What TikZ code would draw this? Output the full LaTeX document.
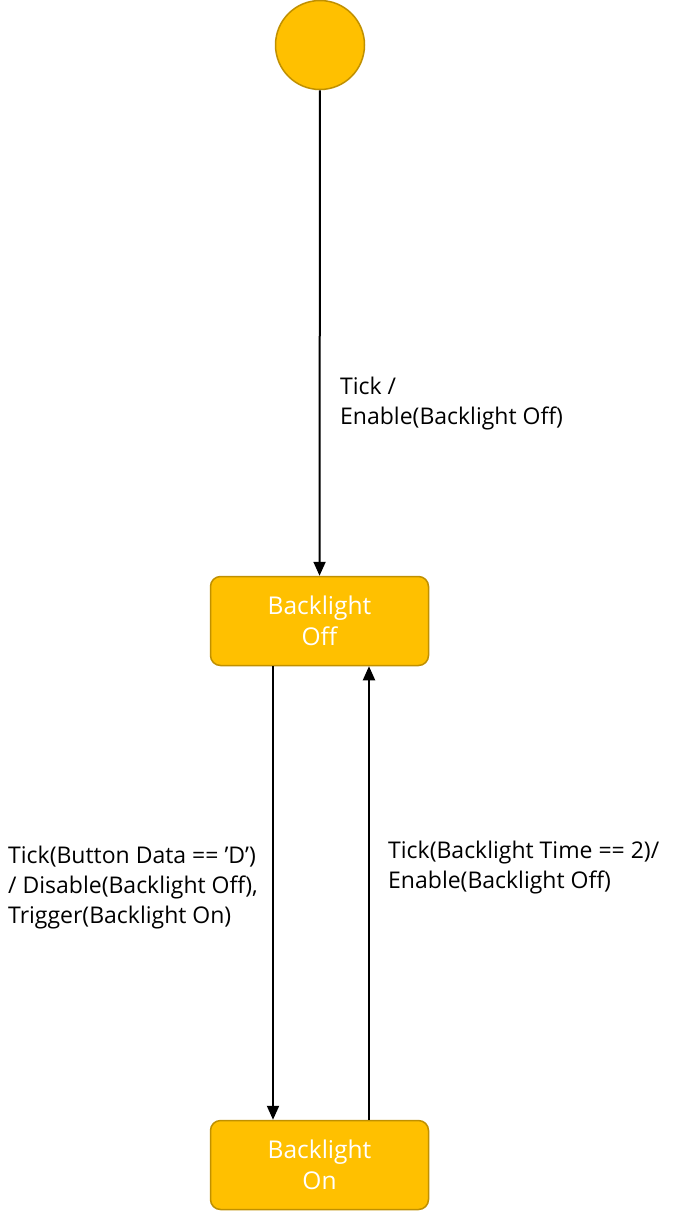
\documentclass[tikz,border=0pt]{standalone}
\usepackage{fontspec}
\setmainfont{Open Sans}
\usetikzlibrary{arrows.meta}
\definecolor{stategold}{HTML}{FFC000}
\definecolor{stateedge}{HTML}{C09000}
\tikzset{
	state/.style={draw=stateedge, fill=stategold, line width=1.5pt, rounded corners=10pt,
		minimum width=218pt, minimum height=89pt, text=white, align=center,
		font=\fontsize{24.5}{31}\selectfont},
	initstate/.style={circle, draw=stateedge, fill=stategold, line width=1.5pt, minimum size=89pt, inner sep=0pt},
	trans/.style={line width=2pt, -{Triangle[width=12pt,length=14pt]}},
	translabel/.style={align=left, anchor=north west, inner sep=0pt, font=\fontsize{23}{30}\selectfont}
}
\begin{document}
\begin{tikzpicture}[x=1pt, y=-1pt]
			%%%%% START %%%%%
			\useasboundingbox (0, 0) rectangle (679, 1211);
			
			\node[initstate] (init) at (320, 45) {};
			\node[state] (off) at (319.5, 621) {Backlight\\Off};
			\node[state] (on) at (319.5, 1165) {Backlight\\On};
			
			\draw[trans] (init) -- (off);
			\draw[trans] ([xshift=-46.5pt]off.south) -- ([xshift=-46.5pt]on.north);
			\draw[trans] ([xshift=49.5pt]on.north) -- ([xshift=49.5pt]off.south);
			
			\node[translabel] (lblinit) at (340, 377) {Tick /\\Enable(Backlight Off)};
			\node[translabel] (lbloff) at (8, 846) {Tick(Button Data == ’D’)\\/ Disable(Backlight Off),\\Trigger(Backlight On)};
			\node[translabel] (lblon) at (388, 841) {Tick(Backlight Time == 2)/\\Enable(Backlight Off)};
			
			%%%%% END %%%%%
		\end{tikzpicture}
\end{document}
